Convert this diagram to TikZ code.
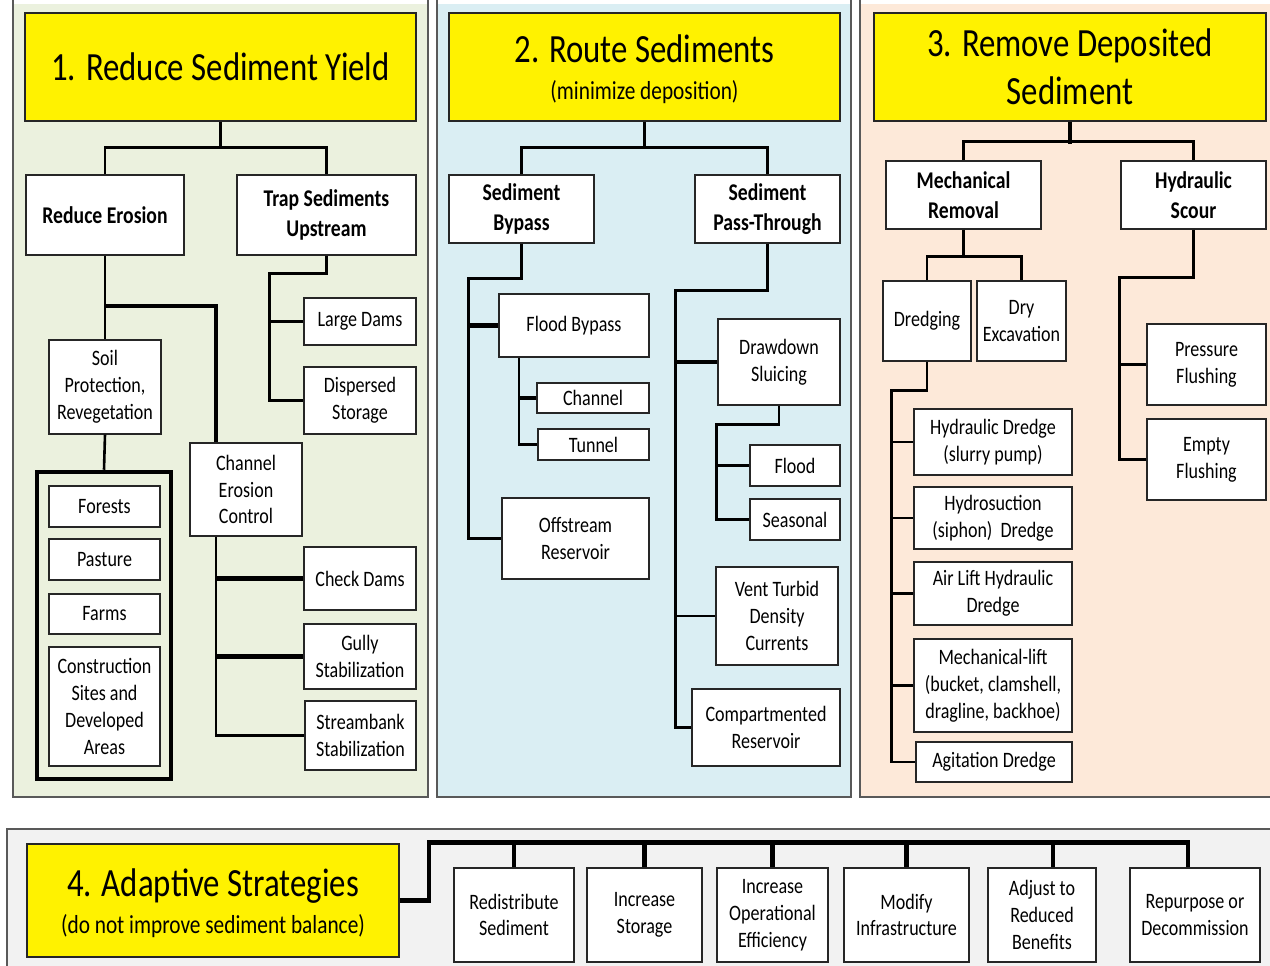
\documentclass[tikz,border=0pt]{standalone}
\usepackage{fontspec}
\setmainfont{Carlito}[FakeStretch=0.82]
\newcommand\fs[2]{\fontsize{#1}{#2}\selectfont}
\definecolor{pone}{HTML}{EBF1DE}
\definecolor{ptwo}{HTML}{DAEEF3}
\definecolor{pthree}{HTML}{FDE9D9}
\definecolor{pfour}{HTML}{F2F2F2}
\definecolor{bordc}{HTML}{262626}
\definecolor{panelc}{HTML}{595959}
\newcommand\bx[7][]{%
  \pgfmathsetmacro\bxcx{(#3+#5)/2}%
  \pgfmathsetmacro\bxcy{(#4+#6)/2}%
  \pgfmathsetmacro\bxw{#5-#3}%
  \pgfmathsetmacro\bxh{#6-#4}%
  \node[box,#1,minimum width=\bxw pt,minimum height=\bxh pt] (#2) at (\bxcx,\bxcy) {#7};}
\tikzset{
  box/.style={draw=bordc,line width=1.2pt,fill=white,inner sep=0pt,align=center,text=black,font=\fs{22}{26.8}},
  bbox/.style={font=\bfseries\fs{24}{30}},
  tbox/.style={fill=yellow,font=\fs{40}{48}},
  grp/.style={fill=none,line width=4.5pt,draw=black},
  conn/.style={draw=black,line width=2.6pt},
  thk/.style={draw=black,line width=4.2pt},
  panel/.style={draw=panelc,line width=1.3pt}
}
\begin{document}
\begin{tikzpicture}[x=1pt,y=-1pt]
\useasboundingbox (0,0) rectangle (1270,966);
\fill[white] (0,0) rectangle (1270,966);
% panels
\fill[pone] (13,4) rectangle (428,797);
\draw[panel] (13,0) -- (13,797) -- (428,797) -- (428,0);
\fill[ptwo] (437,4) rectangle (851,797);
\draw[panel] (437,0) -- (437,797) -- (851,797) -- (851,0);
\fill[pthree] (860,4) rectangle (1270,797);
\draw[panel] (860,0) -- (860,797) -- (1270,797);
\fill[pfour] (7,829) rectangle (1270,966);
\draw[panel] (7,966) -- (7,829) -- (1270,829);

% ---- panel 1
\bx[tbox]{t1}{25}{13}{416}{121}{1. Reduce Sediment Yield}
\bx[bbox]{re}{26}{175}{184}{255}{Reduce Erosion}
\bx[bbox]{tr}{237}{175}{416}{255}{Trap Sediments\\Upstream}
\bx{ld}{304}{298}{416}{345}{Large Dams}
\bx{ds}{304}{367}{416}{434}{Dispersed\\Storage}
\bx{soil}{49}{340}{161}{434}{Soil\\Protection,\\Revegetation}
\bx[grp]{grp}{37}{472}{171}{779}{}
\bx{fo}{49}{486}{160}{527}{Forests}
\bx{pa}{49}{539}{160}{580}{Pasture}
\bx{fa}{49}{594}{160}{634}{Farms}
\bx{cs}{49}{647}{160}{766}{Construction\\Sites and\\Developed\\Areas}
\bx{cec}{190}{443}{302}{536}{Channel\\Erosion\\Control}
\bx{cd}{304}{547}{416}{610}{Check Dams}
\bx{gs}{304}{624}{416}{689}{Gully\\Stabilization}
\bx{ss}{305}{701}{416}{770}{Streambank\\Stabilization}

\draw[conn] (t1.south) -- ++(0,26) coordinate (j1);
\draw[conn] (re.north) |- (j1) -| (tr.north);
\draw[conn] (re.south) -- (soil.north);
\coordinate (cecx) at ([xshift=-30]cec.north);
\draw[thk] (re.south) ++(0,50) -| (cecx);
\draw[conn] (soil.south) -- (grp.north);
\coordinate (cecs) at ([xshift=-30]cec.south);
\draw[conn] (cecs) |- (ss.west);
\draw[thk] (cecs |- cd.west) -- (cd.west);
\draw[thk] (cecs |- gs.west) -- (gs.west);
\draw[conn] (tr.south) -- ++(0,18) -| ([xshift=-34]ds.west) -- (ds.west);
\coordinate (trx) at ([xshift=-34]ld.west);
\draw[conn] (trx) -- (ld.west);

% ---- panel 2
\bx[tbox]{t2}{449}{13}{840}{121}{\rule{0pt}{33pt}2. Route Sediments\\[-11pt]\fs{26}{30}(minimize deposition)}
\bx[bbox]{sb}{449}{175}{594}{243}{Sediment\\Bypass}
\bx[bbox]{spt}{695}{175}{840}{243}{Sediment\\Pass-Through}
\bx{fb}{499}{294}{649}{357}{Flood Bypass}
\bx{ch}{537}{383}{649}{413}{Channel}
\bx{tu}{538}{429}{649}{460}{Tunnel}
\bx{off}{502}{498}{649}{579}{Offstream\\Reservoir}
\bx{dd}{718}{319}{840}{405}{Drawdown\\Sluicing}
\bx{fl}{750}{445}{840}{486}{Flood}
\bx{se}{750}{499}{840}{540}{Seasonal}
\bx{vt}{716}{567}{838}{665}{Vent Turbid\\Density\\Currents}
\bx{cr}{692}{689}{840}{766}{Compartmented\\Reservoir}

\draw[conn] (t2.south) -- ++(0,26) coordinate (j2);
\draw[conn] (sb.north) |- (j2) -| (spt.north);
\draw[conn] (sb.south) -- ++(0,35) -| ([xshift=-33]off.west) -- (off.west);
\draw[thk] ([xshift=-30]fb.west) -- (fb.west);
\coordinate (fbx) at ([xshift=-55]fb.south);
\draw[conn] (fbx) |- (tu.west);
\draw[thk] (fbx |- ch.west) -- (ch.west);
\draw[conn] (spt.south) -- ++(0,47) -| ([xshift=-16]cr.west) -- (cr.west);
\draw[thk] ([xshift=-42]dd.west) -- (dd.west);
\draw[conn] ([xshift=-40]vt.west) -- (vt.west);
\draw[conn] (dd.south) -- ++(0,19) -| ([xshift=-33]se.west) -- (se.west);
\draw[conn] ([xshift=-33]fl.west) -- (fl.west);

% ---- panel 3
\bx[tbox]{t3}{874}{13}{1266}{121}{3. Remove Deposited\\Sediment}
\bx[bbox]{mr}{886}{161}{1041}{229}{Mechanical\\Removal}
\bx[bbox]{hsc}{1121}{161}{1266}{229}{Hydraulic\\Scour}
\bx{dr}{883}{281}{971}{361}{Dredging}
\bx{dx}{977}{281}{1066}{361}{Dry\\Excavation}
\bx{hd}{914}{409}{1072}{475}{Hydraulic Dredge\\(slurry pump)}
\bx{hy}{914}{487}{1072}{549}{Hydrosuction\\(siphon)\ \ Dredge}
\bx{al}{914}{562}{1072}{625}{Air Lift Hydraulic\\Dredge}
\bx{ml}{914}{639}{1072}{732}{Mechanical-lift\\(bucket, clamshell,\\dragline, backhoe)}
\bx{ag}{916}{742}{1072}{782}{Agitation Dredge}
\bx{pf}{1147}{324}{1266}{405}{Pressure\\Flushing}
\bx{ef}{1147}{419}{1266}{500}{Empty\\Flushing}

\draw[thk] (t3.south) -- ++(0,22);
\draw[conn] (t3.south) ++(0,20) coordinate (j3);
\draw[conn] (mr.north) |- (j3) -| (hsc.north);
\draw[conn] (mr.south) -- ++(0,27) coordinate (j4);
\draw[conn] (dr.north) |- (j4) -| (dx.north);
\draw[conn] (dr.south) -- ++(0,29) -| ([xshift=-24]ag.west) -- (ag.west);
\coordinate (drx) at ([xshift=-24]ag.west);
\foreach \n in {hd,hy,al,ml} \draw[conn] (drx |- \n.west) -- (\n.west);
\draw[conn] (hsc.south) -- ++(0,48) -| ([xshift=-27]ef.west) -- (ef.west);
\draw[conn] ([xshift=-27]pf.west) -- (pf.west);

% ---- panel 4
\bx[tbox]{t4}{27}{844}{399}{957}{\rule{0pt}{33pt}4. Adaptive Strategies\\[-11pt]\fs{26}{30}(do not improve sediment balance)}
\bx{rs}{454}{868}{574}{962}{Redistribute\\Sediment}
\bx{is}{587}{868}{702}{962}{Increase\\Storage}
\bx{iop}{717}{868}{828}{962}{Increase\\Operational\\Efficiency}
\bx{mi}{844}{868}{969}{962}{Modify\\Infrastructure}
\bx{ad}{988}{868}{1096}{962}{Adjust to\\Reduced\\Benefits}
\bx{rp}{1130}{868}{1260}{962}{Repurpose or\\Decommission}

\coordinate (rpx) at ([xshift=-7]rp.north);
\coordinate (top4) at ([yshift=25]rpx);
\draw[thk] (t4.east) -- ++(29,0) |- (top4) -- (rpx);
\foreach \n in {rs,is,iop,mi} \draw[thk] (\n.north |- top4) -- (\n.north);
\coordinate (adx) at ([xshift=11]ad.north);
\draw[thk] (adx |- top4) -- (adx);
\end{tikzpicture}
\end{document}
